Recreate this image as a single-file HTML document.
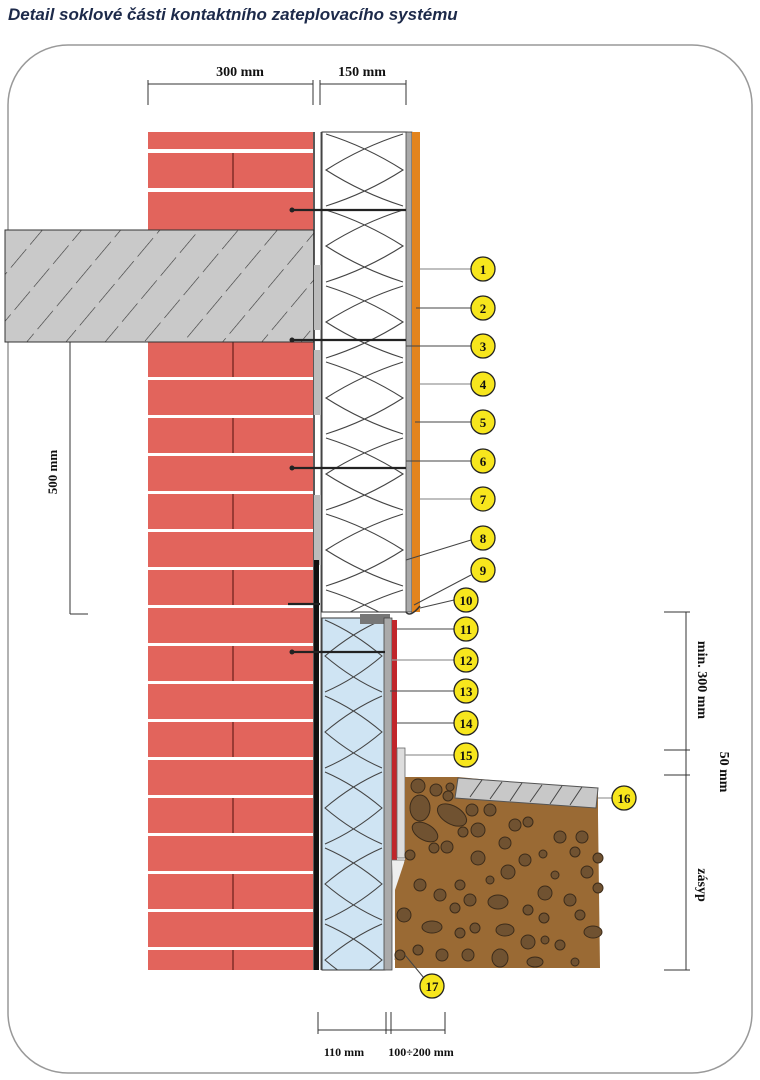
<!DOCTYPE html>
<html><head><meta charset="utf-8"><style>
html,body{margin:0;padding:0;background:#fff;}
svg{display:block;}
</style></head><body>
<svg width="760" height="1080" viewBox="0 0 760 1080" xmlns="http://www.w3.org/2000/svg" font-family="Liberation Serif, serif">
<defs>
<pattern id="brick" patternUnits="userSpaceOnUse" x="148" y="342" width="165" height="76">
<rect width="165" height="76" fill="#e2645c"/>
<rect y="35" width="165" height="3" fill="#fff"/>
<rect y="73" width="165" height="3" fill="#fff"/>
<rect x="84" y="0" width="2" height="35" fill="#9a3a34"/>
</pattern>
<pattern id="hatch" patternUnits="userSpaceOnUse" width="30" height="30" patternTransform="rotate(40)">
<rect width="30" height="30" fill="#c9c9c9"/>
<line x1="0" y1="0" x2="0" y2="30" stroke="#333" stroke-width="1.2" stroke-dasharray="18 6"/>
</pattern>
<pattern id="eps" patternUnits="userSpaceOnUse" x="322" y="132" width="85" height="76">
<path d="M4,2 Q45,15 81,38 Q45,61 4,74 M81,2 Q40,15 4,38 Q40,61 81,74" fill="none" stroke="#444" stroke-width="1.1"/>
</pattern>
<pattern id="xps" patternUnits="userSpaceOnUse" x="322" y="618" width="63" height="76">
<rect width="63" height="76" fill="#cfe4f3"/>
<path d="M3,2 Q33,15 60,38 Q33,61 3,74 M60,2 Q30,15 3,38 Q30,61 60,74" fill="none" stroke="#444" stroke-width="1.1"/>
</pattern>
</defs>

<text x="8" y="20" font-family="Liberation Sans, sans-serif" font-size="17" font-weight="bold" font-style="italic" fill="#1d2a4a">Detail soklové části kontaktního zateplovacího systému</text>

<rect x="8" y="45" width="744" height="1028" rx="60" fill="none" stroke="#999" stroke-width="1.5"/>

<rect x="148" y="132" width="165" height="838" fill="url(#brick)"/>
<rect x="148" y="132" width="165" height="98" fill="#e2645c"/>
<rect x="148" y="149" width="165" height="4" fill="#fff"/>
<rect x="148" y="188" width="165" height="4" fill="#fff"/>
<rect x="232" y="153" width="2" height="35" fill="#9a3a34"/>
<rect x="5" y="230" width="309" height="112" fill="url(#hatch)" stroke="#333" stroke-width="1"/>
<line x1="314" y1="132" x2="314" y2="970" stroke="#222" stroke-width="1.5"/>
<rect x="315" y="132" width="7" height="838" fill="#fff"/>
<line x1="321" y1="132" x2="321" y2="970" stroke="#555" stroke-width="1"/>
<rect x="314" y="265" width="7" height="65" fill="#bbb"/>
<rect x="314" y="350" width="7" height="65" fill="#bbb"/>
<rect x="314" y="495" width="7" height="70" fill="#bbb"/>
<rect x="314" y="560" width="5" height="410" fill="#111"/>
<rect x="322" y="132" width="85" height="480" fill="#fff" stroke="#333" stroke-width="1"/>
<rect x="322" y="132" width="85" height="480" fill="url(#eps)"/>
<rect x="406" y="132" width="6" height="480" fill="#aaa" stroke="#444" stroke-width="0.8"/>
<rect x="412" y="132" width="8" height="480" fill="#e2841e"/>
<path d="M406,612 Q410,618 420,606" fill="none" stroke="#333" stroke-width="1.5"/>
<rect x="322" y="618" width="63" height="352" fill="url(#xps)" stroke="#333" stroke-width="1"/>
<rect x="360" y="614" width="30" height="10" fill="#777"/>
<rect x="384" y="618" width="8" height="352" fill="#aaa" stroke="#444" stroke-width="0.8"/>
<rect x="392" y="620" width="5" height="240" fill="#c0262b"/>
<rect x="397" y="748" width="8" height="110" fill="#ddd" stroke="#666" stroke-width="0.8"/>
<path d="M392,860 L405,860 L400,890 L395,960" fill="#eee" stroke="#666" stroke-width="0.8"/>

<g stroke="#222" stroke-width="2.2">
<line x1="290" y1="210" x2="406" y2="210"/><line x1="290" y1="340" x2="406" y2="340"/>
<line x1="290" y1="468" x2="406" y2="468"/><line x1="288" y1="604" x2="320" y2="604"/>
<line x1="292" y1="652" x2="385" y2="652"/>
</g>
<g fill="#222"><circle cx="292" cy="210" r="2.5"/><circle cx="292" cy="340" r="2.5"/><circle cx="292" cy="468" r="2.5"/><circle cx="292" cy="652" r="2.5"/></g>

<polygon points="405,777 458,777 598,790 598,815 600,968 395,968 395,890 405,860" fill="#9a6a34"/>
<polygon points="458,778 598,788 596,808 455,798" fill="#c8c8c8" stroke="#555" stroke-width="1"/>
<g stroke="#444" stroke-width="1" fill="none">
<line x1="470" y1="797" x2="482" y2="780"/><line x1="490" y1="799" x2="502" y2="782"/><line x1="510" y1="801" x2="522" y2="783"/><line x1="530" y1="802" x2="542" y2="785"/><line x1="550" y1="804" x2="562" y2="786"/><line x1="570" y1="805" x2="582" y2="787"/>
</g>
<g fill="#705231" stroke="#3d2c1a" stroke-width="1">
<circle cx="418" cy="786" r="7"/><circle cx="436" cy="790" r="6"/><circle cx="450" cy="787" r="4"/><circle cx="448" cy="796" r="5"/>
<ellipse cx="420" cy="808" rx="10" ry="13"/><ellipse cx="452" cy="815" rx="16" ry="9" transform="rotate(30 452 815)"/>
<ellipse cx="425" cy="832" rx="14" ry="8" transform="rotate(30 425 832)"/><circle cx="472" cy="810" r="6"/><circle cx="490" cy="810" r="6"/>
<circle cx="515" cy="825" r="6"/><circle cx="528" cy="822" r="5"/><circle cx="505" cy="843" r="6"/><circle cx="478" cy="830" r="7"/>
<circle cx="463" cy="832" r="5"/><circle cx="447" cy="847" r="6"/><circle cx="434" cy="848" r="5"/><circle cx="410" cy="855" r="5"/>
<circle cx="478" cy="858" r="7"/><circle cx="508" cy="872" r="7"/><circle cx="525" cy="860" r="6"/><circle cx="543" cy="854" r="4"/>
<circle cx="560" cy="837" r="6"/><circle cx="575" cy="852" r="5"/><circle cx="582" cy="837" r="6"/><circle cx="598" cy="858" r="5"/>
<circle cx="587" cy="872" r="6"/><circle cx="598" cy="888" r="5"/><circle cx="545" cy="893" r="7"/><circle cx="570" cy="900" r="6"/>
<circle cx="580" cy="915" r="5"/><ellipse cx="593" cy="932" rx="9" ry="6"/><circle cx="544" cy="918" r="5"/><circle cx="528" cy="910" r="5"/>
<ellipse cx="498" cy="902" rx="10" ry="7"/><circle cx="470" cy="900" r="6"/><circle cx="455" cy="908" r="5"/><circle cx="440" cy="895" r="6"/>
<circle cx="420" cy="885" r="6"/><circle cx="404" cy="915" r="7"/><ellipse cx="432" cy="927" rx="10" ry="6"/><circle cx="460" cy="933" r="5"/>
<circle cx="475" cy="928" r="5"/><ellipse cx="505" cy="930" rx="9" ry="6"/><ellipse cx="500" cy="958" rx="8" ry="9"/><circle cx="528" cy="942" r="7"/>
<circle cx="545" cy="940" r="4"/><circle cx="560" cy="945" r="5"/><circle cx="418" cy="950" r="5"/><circle cx="442" cy="955" r="6"/>
<circle cx="468" cy="955" r="6"/><circle cx="400" cy="955" r="5"/><circle cx="575" cy="962" r="4"/><ellipse cx="535" cy="962" rx="8" ry="5"/>
<circle cx="460" cy="885" r="5"/><circle cx="490" cy="880" r="4"/><circle cx="555" cy="875" r="4"/>
</g>

<g stroke="#999" stroke-width="1.2">
<line x1="420" y1="269" x2="471" y2="269"/><line x1="420" y1="384" x2="471" y2="384"/><line x1="420" y1="499" x2="471" y2="499"/>
<line x1="392" y1="660" x2="471" y2="660"/><line x1="405" y1="755" x2="454" y2="755"/><line x1="598" y1="798" x2="612" y2="798"/>
</g>
<g stroke="#444" stroke-width="1">
<line x1="416" y1="308" x2="471" y2="308"/><line x1="406" y1="346" x2="471" y2="346"/><line x1="415" y1="422" x2="471" y2="422"/>
<line x1="406" y1="461" x2="471" y2="461"/><line x1="406" y1="560" x2="471" y2="540"/><line x1="414" y1="605" x2="471" y2="575"/>
<line x1="420" y1="608" x2="454" y2="600"/><line x1="397" y1="629" x2="454" y2="629"/><line x1="390" y1="691" x2="471" y2="691"/>
<line x1="397" y1="723" x2="471" y2="723"/><line x1="405" y1="955" x2="424" y2="978"/>
</g>
<g fill="#f7e61d" stroke="#222" stroke-width="1.3">
<circle cx="483" cy="269" r="12"/><circle cx="483" cy="308" r="12"/><circle cx="483" cy="346" r="12"/><circle cx="483" cy="384" r="12"/>
<circle cx="483" cy="422" r="12"/><circle cx="483" cy="461" r="12"/><circle cx="483" cy="499" r="12"/><circle cx="483" cy="538" r="12"/>
<circle cx="483" cy="570" r="12"/><circle cx="466" cy="600" r="12"/><circle cx="466" cy="629" r="12"/><circle cx="466" cy="660" r="12"/>
<circle cx="466" cy="691" r="12"/><circle cx="466" cy="723" r="12"/><circle cx="466" cy="755" r="12"/><circle cx="624" cy="798" r="12"/>
<circle cx="432" cy="986" r="12"/>
</g>
<g fill="#111" font-size="13" font-weight="bold" text-anchor="middle">
<text x="483" y="274">1</text><text x="483" y="313">2</text><text x="483" y="351">3</text><text x="483" y="389">4</text>
<text x="483" y="427">5</text><text x="483" y="466">6</text><text x="483" y="504">7</text><text x="483" y="543">8</text>
<text x="483" y="575">9</text><text x="466" y="605">10</text><text x="466" y="634">11</text><text x="466" y="665">12</text>
<text x="466" y="696">13</text><text x="466" y="728">14</text><text x="466" y="760">15</text><text x="624" y="803">16</text>
<text x="432" y="991">17</text>
</g>

<g stroke="#333" stroke-width="1" fill="none">
<line x1="148" y1="84" x2="313" y2="84"/><line x1="148" y1="80" x2="148" y2="105"/><line x1="313" y1="80" x2="313" y2="105"/>
<line x1="320" y1="84" x2="406" y2="84"/><line x1="320" y1="80" x2="320" y2="105"/><line x1="406" y1="80" x2="406" y2="105"/>
<line x1="70" y1="342" x2="70" y2="614"/><line x1="70" y1="614" x2="88" y2="614"/>
<line x1="686" y1="612" x2="686" y2="970"/><line x1="664" y1="612" x2="690" y2="612"/><line x1="664" y1="750" x2="690" y2="750"/>
<line x1="664" y1="775" x2="690" y2="775"/><line x1="664" y1="970" x2="690" y2="970"/>
<line x1="318" y1="1030" x2="445" y2="1030"/><line x1="318" y1="1012" x2="318" y2="1034"/><line x1="386" y1="1012" x2="386" y2="1034"/>
<line x1="391" y1="1012" x2="391" y2="1034"/><line x1="445" y1="1012" x2="445" y2="1034"/>
</g>
<g fill="#111" font-size="14" font-weight="bold">
<text x="240" y="76" text-anchor="middle">300 mm</text>
<text x="362" y="76" text-anchor="middle">150 mm</text>
<text transform="translate(57,472) rotate(-90)" text-anchor="middle" font-size="13">500 mm</text>
<text transform="translate(698,680) rotate(90)" text-anchor="middle">min. 300 mm</text>
<text transform="translate(720,772) rotate(90)" text-anchor="middle">50 mm</text>
<text transform="translate(698,885) rotate(90)" text-anchor="middle">zásyp</text>
<text x="344" y="1056" text-anchor="middle" font-size="12">110 mm</text>
<text x="421" y="1056" text-anchor="middle" font-size="12">100÷200 mm</text>
</g>
</svg>
</body></html>
